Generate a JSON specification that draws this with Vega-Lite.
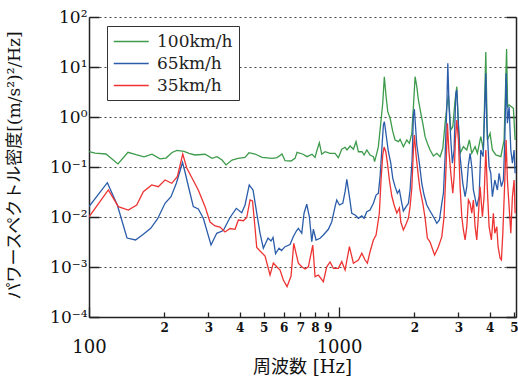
{
  "$schema": "https://vega.github.io/schema/vega-lite/v6.json",
  "width": 427,
  "height": 300,
  "autosize": {"type": "none"},
  "padding": {"left": 89, "top": 17, "right": 2, "bottom": 61},
  "background": "white",
  "config": {"view": {"stroke": null}, "font": "DejaVu Serif"},
  "datasets": {
    "psd": [
      {"s":"100km/h","f":100,"v":0.204},{"s":"100km/h","f":105.7,"v":0.19},{"s":"100km/h","f":116.9,"v":0.182},{"s":"100km/h","f":130.6,"v":0.115},{"s":"100km/h","f":143.2,"v":0.197},{"s":"100km/h","f":154.2,"v":0.176},{"s":"100km/h","f":166,"v":0.159},{"s":"100km/h","f":178.6,"v":0.18},{"s":"100km/h","f":192.3,"v":0.145},{"s":"100km/h","f":203.2,"v":0.151},{"s":"100km/h","f":214.8,"v":0.195},{"s":"100km/h","f":224.9,"v":0.214},{"s":"100km/h","f":239.9,"v":0.206},{"s":"100km/h","f":251.2,"v":0.188},{"s":"100km/h","f":265.5,"v":0.174},{"s":"100km/h","f":291.1,"v":0.18},{"s":"100km/h","f":310.5,"v":0.149},{"s":"100km/h","f":325.1,"v":0.161},{"s":"100km/h","f":340.4,"v":0.138},{"s":"100km/h","f":353.2,"v":0.11},{"s":"100km/h","f":373.3,"v":0.138},{"s":"100km/h","f":394.5,"v":0.149},{"s":"100km/h","f":420.7,"v":0.156},{"s":"100km/h","f":436.5,"v":0.193},{"s":"100km/h","f":461.3,"v":0.182},{"s":"100km/h","f":492,"v":0.156},{"s":"100km/h","f":539.5,"v":0.149},{"s":"100km/h","f":564.9,"v":0.154},{"s":"100km/h","f":591.6,"v":0.182},{"s":"100km/h","f":608.1,"v":0.134},{"s":"100km/h","f":642.7,"v":0.132},{"s":"100km/h","f":666.8,"v":0.149},{"s":"100km/h","f":679.2,"v":0.197},{"s":"100km/h","f":717.8,"v":0.18},{"s":"100km/h","f":744.7,"v":0.161},{"s":"100km/h","f":779.8,"v":0.18},{"s":"100km/h","f":801.7,"v":0.156},{"s":"100km/h","f":816.6,"v":0.219},{"s":"100km/h","f":834,"v":0.306},{"s":"100km/h","f":852.6,"v":0.18},{"s":"100km/h","f":879,"v":0.202},{"s":"100km/h","f":920.4,"v":0.188},{"s":"100km/h","f":963.8,"v":0.188},{"s":"100km/h","f":993.6,"v":0.154},{"s":"100km/h","f":1025,"v":0.226},{"s":"100km/h","f":1057,"v":0.248},{"s":"100km/h","f":1076,"v":0.219},{"s":"100km/h","f":1107,"v":0.263},{"s":"100km/h","f":1141,"v":0.226},{"s":"100km/h","f":1169,"v":0.321},{"s":"100km/h","f":1195,"v":0.202},{"s":"100km/h","f":1236,"v":0.202},{"s":"100km/h","f":1259,"v":0.174},{"s":"100km/h","f":1291,"v":0.219},{"s":"100km/h","f":1330,"v":0.174},{"s":"100km/h","f":1372,"v":0.161},{"s":"100km/h","f":1387,"v":0.128},{"s":"100km/h","f":1415,"v":0.188},{"s":"100km/h","f":1436,"v":0.255},{"s":"100km/h","f":1468,"v":0.748},{"s":"100km/h","f":1495,"v":1.88},{"s":"100km/h","f":1517,"v":6.4},{"s":"100km/h","f":1542,"v":2.55},{"s":"100km/h","f":1566,"v":1.28},{"s":"100km/h","f":1600,"v":0.942},{"s":"100km/h","f":1640,"v":0.508},{"s":"100km/h","f":1675,"v":0.347},{"s":"100km/h","f":1727,"v":0.321},{"s":"100km/h","f":1754,"v":0.358},{"s":"100km/h","f":1808,"v":0.255},{"s":"100km/h","f":1866,"v":0.347},{"s":"100km/h","f":1911,"v":0.298},{"s":"100km/h","f":1954,"v":0.472},{"s":"100km/h","f":1983,"v":1.61},{"s":"100km/h","f":2014,"v":6.4},{"s":"100km/h","f":2046,"v":4.04},{"s":"100km/h","f":2076,"v":2.19},{"s":"100km/h","f":2123,"v":1.19},{"s":"100km/h","f":2162,"v":0.748},{"s":"100km/h","f":2208,"v":0.404},{"s":"100km/h","f":2255,"v":0.298},{"s":"100km/h","f":2312,"v":0.219},{"s":"100km/h","f":2384,"v":0.166},{"s":"100km/h","f":2460,"v":0.188},{"s":"100km/h","f":2535,"v":0.161},{"s":"100km/h","f":2599,"v":0.237},{"s":"100km/h","f":2655,"v":0.748},{"s":"100km/h","f":2697,"v":1.61},{"s":"100km/h","f":2737,"v":2.75},{"s":"100km/h","f":2798,"v":0.55},{"s":"100km/h","f":2850,"v":0.64},{"s":"100km/h","f":2911,"v":2.19},{"s":"100km/h","f":2957,"v":4.04},{"s":"100km/h","f":3001,"v":0.64},{"s":"100km/h","f":3048,"v":0.188},{"s":"100km/h","f":3142,"v":0.255},{"s":"100km/h","f":3242,"v":0.219},{"s":"100km/h","f":3320,"v":0.347},{"s":"100km/h","f":3394,"v":0.188},{"s":"100km/h","f":3499,"v":0.255},{"s":"100km/h","f":3574,"v":0.188},{"s":"100km/h","f":3688,"v":0.404},{"s":"100km/h","f":3777,"v":0.219},{"s":"100km/h","f":3862,"v":20},{"s":"100km/h","f":3919,"v":0.347},{"s":"100km/h","f":4018,"v":0.472},{"s":"100km/h","f":4104,"v":0.219},{"s":"100km/h","f":4235,"v":0.174},{"s":"100km/h","f":4436,"v":0.161},{"s":"100km/h","f":4571,"v":0.347},{"s":"100km/h","f":4677,"v":22.9},{"s":"100km/h","f":4721,"v":1.61},{"s":"100km/h","f":4786,"v":1.74},{"s":"100km/h","f":4889,"v":1.61},{"s":"100km/h","f":4980,"v":1.49},{"s":"100km/h","f":5058,"v":0.347},
      {"s":"65km/h","f":100,"v":0.0161},{"s":"65km/h","f":118.4,"v":0.0485},{"s":"65km/h","f":129.8,"v":0.0174},{"s":"65km/h","f":141.9,"v":0.0038},{"s":"65km/h","f":153.5,"v":0.00347},{"s":"65km/h","f":163.4,"v":0.00437},{"s":"65km/h","f":176.5,"v":0.00594},{"s":"65km/h","f":187.9,"v":0.00912},{"s":"65km/h","f":201.4,"v":0.0188},{"s":"65km/h","f":212.8,"v":0.0255},{"s":"65km/h","f":223.5,"v":0.0472},{"s":"65km/h","f":236.6,"v":0.123},{"s":"65km/h","f":242.1,"v":0.0794},{"s":"65km/h","f":251.2,"v":0.0363},{"s":"65km/h","f":261.3,"v":0.0161},{"s":"65km/h","f":273.6,"v":0.0145},{"s":"65km/h","f":286.5,"v":0.00942},{"s":"65km/h","f":307.6,"v":0.00275},{"s":"65km/h","f":324.2,"v":0.00472},{"s":"65km/h","f":344.5,"v":0.00537},{"s":"65km/h","f":366.4,"v":0.00977},{"s":"65km/h","f":388.3,"v":0.0149},{"s":"65km/h","f":408.1,"v":0.0122},{"s":"65km/h","f":420.7,"v":0.0174},{"s":"65km/h","f":437.3,"v":0.0437},{"s":"65km/h","f":452.9,"v":0.0347},{"s":"65km/h","f":468.6,"v":0.012},{"s":"65km/h","f":483.1,"v":0.00472},{"s":"65km/h","f":498,"v":0.00237},{"s":"65km/h","f":520,"v":0.0038},{"s":"65km/h","f":534.6,"v":0.00331},{"s":"65km/h","f":544.5,"v":0.00389},{"s":"65km/h","f":557.2,"v":0.00185},{"s":"65km/h","f":575.4,"v":0.00237},{"s":"65km/h","f":588.8,"v":0.00214},{"s":"65km/h","f":608.1,"v":0.00255},{"s":"65km/h","f":636.8,"v":0.00282},{"s":"65km/h","f":656.5,"v":0.00407},{"s":"65km/h","f":674.9,"v":0.00525},{"s":"65km/h","f":687.4,"v":0.00594},{"s":"65km/h","f":709.3,"v":0.00472},{"s":"65km/h","f":724.4,"v":0.0119},{"s":"65km/h","f":742.7,"v":0.018},{"s":"65km/h","f":760.7,"v":0.0101},{"s":"65km/h","f":777.7,"v":0.00321},{"s":"65km/h","f":789.3,"v":0.00568},{"s":"65km/h","f":809.1,"v":0.00347},{"s":"65km/h","f":839.5,"v":0.00375},{"s":"65km/h","f":865.4,"v":0.00437},{"s":"65km/h","f":906.2,"v":0.00568},{"s":"65km/h","f":935.1,"v":0.00805},{"s":"65km/h","f":963.8,"v":0.0161},{"s":"65km/h","f":979,"v":0.0219},{"s":"65km/h","f":1003,"v":0.0174},{"s":"65km/h","f":1035,"v":0.0188},{"s":"65km/h","f":1057,"v":0.0321},{"s":"65km/h","f":1074,"v":0.0568},{"s":"65km/h","f":1100,"v":0.0255},{"s":"65km/h","f":1124,"v":0.0119},{"s":"65km/h","f":1159,"v":0.011},{"s":"65km/h","f":1195,"v":0.00942},{"s":"65km/h","f":1233,"v":0.0105},{"s":"65km/h","f":1259,"v":0.00942},{"s":"65km/h","f":1291,"v":0.0128},{"s":"65km/h","f":1330,"v":0.0138},{"s":"65km/h","f":1372,"v":0.0188},{"s":"65km/h","f":1406,"v":0.0275},{"s":"65km/h","f":1436,"v":0.0298},{"s":"65km/h","f":1459,"v":0.064},{"s":"65km/h","f":1482,"v":0.219},{"s":"65km/h","f":1504,"v":0.692},{"s":"65km/h","f":1517,"v":0.805},{"s":"65km/h","f":1528,"v":0.631},{"s":"65km/h","f":1552,"v":0.347},{"s":"65km/h","f":1575,"v":0.202},{"s":"65km/h","f":1610,"v":0.119},{"s":"65km/h","f":1640,"v":0.0594},{"s":"65km/h","f":1675,"v":0.0404},{"s":"65km/h","f":1711,"v":0.0298},{"s":"65km/h","f":1743,"v":0.0347},{"s":"65km/h","f":1782,"v":0.0188},{"s":"65km/h","f":1808,"v":0.0132},{"s":"65km/h","f":1854,"v":0.0161},{"s":"65km/h","f":1894,"v":0.0188},{"s":"65km/h","f":1923,"v":0.0347},{"s":"65km/h","f":1959,"v":0.138},{"s":"65km/h","f":1983,"v":1.1},{"s":"65km/h","f":2001,"v":1.43},{"s":"65km/h","f":2014,"v":0.871},{"s":"65km/h","f":2046,"v":0.275},{"s":"65km/h","f":2095,"v":0.119},{"s":"65km/h","f":2142,"v":0.0472},{"s":"65km/h","f":2188,"v":0.0275},{"s":"65km/h","f":2243,"v":0.0174},{"s":"65km/h","f":2298,"v":0.0138},{"s":"65km/h","f":2349,"v":0.0115},{"s":"65km/h","f":2399,"v":0.00955},{"s":"65km/h","f":2460,"v":0.00748},{"s":"65km/h","f":2519,"v":0.00871},{"s":"65km/h","f":2576,"v":0.0188},{"s":"65km/h","f":2614,"v":0.0298},{"s":"65km/h","f":2655,"v":0.161},{"s":"65km/h","f":2697,"v":1.61},{"s":"65km/h","f":2722,"v":11.9},{"s":"65km/h","f":2754,"v":1.61},{"s":"65km/h","f":2798,"v":0.347},{"s":"65km/h","f":2839,"v":0.119},{"s":"65km/h","f":2884,"v":0.219},{"s":"65km/h","f":2930,"v":2.98},{"s":"65km/h","f":2957,"v":3.47},{"s":"65km/h","f":3001,"v":0.748},{"s":"65km/h","f":3048,"v":0.161},{"s":"65km/h","f":3125,"v":0.0472},{"s":"65km/h","f":3192,"v":0.0255},{"s":"65km/h","f":3242,"v":0.0404},{"s":"65km/h","f":3290,"v":0.11},{"s":"65km/h","f":3342,"v":0.188},{"s":"65km/h","f":3394,"v":0.101},{"s":"65km/h","f":3445,"v":0.0347},{"s":"65km/h","f":3554,"v":0.0161},{"s":"65km/h","f":3631,"v":0.0255},{"s":"65km/h","f":3688,"v":0.219},{"s":"65km/h","f":3767,"v":0.161},{"s":"65km/h","f":3826,"v":1.61},{"s":"65km/h","f":3862,"v":7.48},{"s":"65km/h","f":3897,"v":0.748},{"s":"65km/h","f":3981,"v":0.101},{"s":"65km/h","f":4044,"v":0.0748},{"s":"65km/h","f":4104,"v":0.0255},{"s":"65km/h","f":4196,"v":0.055},{"s":"65km/h","f":4297,"v":0.0347},{"s":"65km/h","f":4365,"v":0.0748},{"s":"65km/h","f":4459,"v":0.0404},{"s":"65km/h","f":4542,"v":0.055},{"s":"65km/h","f":4601,"v":0.347},{"s":"65km/h","f":4656,"v":7.48},{"s":"65km/h","f":4712,"v":0.748},{"s":"65km/h","f":4786,"v":1.61},{"s":"65km/h","f":4862,"v":0.219},{"s":"65km/h","f":4934,"v":0.119},{"s":"65km/h","f":5012,"v":0.219},{"s":"65km/h","f":5058,"v":0.0748},
      {"s":"35km/h","f":100,"v":0.0101},{"s":"35km/h","f":119.5,"v":0.0347},{"s":"35km/h","f":131,"v":0.0161},{"s":"35km/h","f":143.6,"v":0.0138},{"s":"35km/h","f":155.2,"v":0.0174},{"s":"35km/h","f":164.9,"v":0.0321},{"s":"35km/h","f":178.1,"v":0.0437},{"s":"35km/h","f":189.3,"v":0.0404},{"s":"35km/h","f":201.4,"v":0.055},{"s":"35km/h","f":214.2,"v":0.0472},{"s":"35km/h","f":225.5,"v":0.064},{"s":"35km/h","f":237.1,"v":0.182},{"s":"35km/h","f":246,"v":0.0955},{"s":"35km/h","f":258.2,"v":0.0603},{"s":"35km/h","f":273.6,"v":0.0347},{"s":"35km/h","f":291.1,"v":0.0161},{"s":"35km/h","f":304.8,"v":0.00794},{"s":"35km/h","f":319.2,"v":0.00661},{"s":"35km/h","f":334.2,"v":0.00631},{"s":"35km/h","f":349.9,"v":0.00501},{"s":"35km/h","f":366.4,"v":0.00589},{"s":"35km/h","f":383.7,"v":0.00568},{"s":"35km/h","f":395.6,"v":0.00871},{"s":"35km/h","f":414.2,"v":0.00843},{"s":"35km/h","f":427.4,"v":0.00977},{"s":"35km/h","f":440.6,"v":0.0219},{"s":"35km/h","f":450.8,"v":0.0209},{"s":"35km/h","f":461.3,"v":0.00603},{"s":"35km/h","f":468.6,"v":0.00246},{"s":"35km/h","f":483.1,"v":0.00209},{"s":"35km/h","f":505.8,"v":0.00166},{"s":"35km/h","f":529.7,"v":0.000692},{"s":"35km/h","f":546,"v":0.0012},{"s":"35km/h","f":563.4,"v":0.00101},{"s":"35km/h","f":580.8,"v":0.000871},{"s":"35km/h","f":598.7,"v":0.00055},{"s":"35km/h","f":619.4,"v":0.000404},{"s":"35km/h","f":642.7,"v":0.000661},{"s":"35km/h","f":658.9,"v":0.00298},{"s":"35km/h","f":673,"v":0.00188},{"s":"35km/h","f":687.4,"v":0.00119},{"s":"35km/h","f":709.3,"v":0.00101},{"s":"35km/h","f":731.1,"v":0.000912},{"s":"35km/h","f":753.8,"v":0.00101},{"s":"35km/h","f":784.9,"v":0.00275},{"s":"35km/h","f":801.7,"v":0.00064},{"s":"35km/h","f":826.5,"v":0.000692},{"s":"35km/h","f":865.4,"v":0.000508},{"s":"35km/h","f":892.7,"v":0.00101},{"s":"35km/h","f":920.4,"v":0.00126},{"s":"35km/h","f":949,"v":0.000942},{"s":"35km/h","f":993.6,"v":0.000942},{"s":"35km/h","f":1025,"v":0.00128},{"s":"35km/h","f":1057,"v":0.000871},{"s":"35km/h","f":1100,"v":0.00255},{"s":"35km/h","f":1141,"v":0.00119},{"s":"35km/h","f":1195,"v":0.00138},{"s":"35km/h","f":1233,"v":0.00188},{"s":"35km/h","f":1271,"v":0.00138},{"s":"35km/h","f":1298,"v":0.00119},{"s":"35km/h","f":1330,"v":0.00202},{"s":"35km/h","f":1372,"v":0.00347},{"s":"35km/h","f":1406,"v":0.00437},{"s":"35km/h","f":1449,"v":0.0119},{"s":"35km/h","f":1472,"v":0.055},{"s":"35km/h","f":1495,"v":0.174},{"s":"35km/h","f":1514,"v":0.251},{"s":"35km/h","f":1538,"v":0.2},{"s":"35km/h","f":1561,"v":0.12},{"s":"35km/h","f":1589,"v":0.055},{"s":"35km/h","f":1625,"v":0.0263},{"s":"35km/h","f":1660,"v":0.0174},{"s":"35km/h","f":1702,"v":0.012},{"s":"35km/h","f":1743,"v":0.0151},{"s":"35km/h","f":1766,"v":0.00794},{"s":"35km/h","f":1808,"v":0.0055},{"s":"35km/h","f":1854,"v":0.00724},{"s":"35km/h","f":1894,"v":0.00955},{"s":"35km/h","f":1923,"v":0.0161},{"s":"35km/h","f":1954,"v":0.038},{"s":"35km/h","f":1983,"v":0.219},{"s":"35km/h","f":2001,"v":0.437},{"s":"35km/h","f":2032,"v":0.174},{"s":"35km/h","f":2076,"v":0.064},{"s":"35km/h","f":2109,"v":0.0347},{"s":"35km/h","f":2162,"v":0.0188},{"s":"35km/h","f":2208,"v":0.00955},{"s":"35km/h","f":2255,"v":0.0038},{"s":"35km/h","f":2312,"v":0.00316},{"s":"35km/h","f":2371,"v":0.00219},{"s":"35km/h","f":2410,"v":0.00174},{"s":"35km/h","f":2495,"v":0.00251},{"s":"35km/h","f":2576,"v":0.00404},{"s":"35km/h","f":2630,"v":0.0101},{"s":"35km/h","f":2679,"v":0.101},{"s":"35km/h","f":2712,"v":0.748},{"s":"35km/h","f":2747,"v":0.219},{"s":"35km/h","f":2798,"v":0.0748},{"s":"35km/h","f":2850,"v":0.0298},{"s":"35km/h","f":2884,"v":0.064},{"s":"35km/h","f":2919,"v":0.347},{"s":"35km/h","f":2957,"v":0.871},{"s":"35km/h","f":3001,"v":0.347},{"s":"35km/h","f":3048,"v":0.0404},{"s":"35km/h","f":3096,"v":0.0101},{"s":"35km/h","f":3142,"v":0.0055},{"s":"35km/h","f":3192,"v":0.00347},{"s":"35km/h","f":3242,"v":0.0064},{"s":"35km/h","f":3290,"v":0.0219},{"s":"35km/h","f":3342,"v":0.0188},{"s":"35km/h","f":3394,"v":0.0119},{"s":"35km/h","f":3445,"v":0.0219},{"s":"35km/h","f":3499,"v":0.0064},{"s":"35km/h","f":3554,"v":0.00347},{"s":"35km/h","f":3597,"v":0.00871},{"s":"35km/h","f":3664,"v":0.0404},{"s":"35km/h","f":3743,"v":0.0101},{"s":"35km/h","f":3802,"v":0.0255},{"s":"35km/h","f":3862,"v":0.219},{"s":"35km/h","f":3919,"v":0.0347},{"s":"35km/h","f":3981,"v":0.0064},{"s":"35km/h","f":4066,"v":0.00347},{"s":"35km/h","f":4141,"v":0.0119},{"s":"35km/h","f":4196,"v":0.00472},{"s":"35km/h","f":4273,"v":0.0064},{"s":"35km/h","f":4325,"v":0.00255},{"s":"35km/h","f":4406,"v":0.00149},{"s":"35km/h","f":4459,"v":0.00138},{"s":"35km/h","f":4517,"v":0.00472},{"s":"35km/h","f":4601,"v":0.055},{"s":"35km/h","f":4656,"v":0.347},{"s":"35km/h","f":4712,"v":0.055},{"s":"35km/h","f":4786,"v":0.0161},{"s":"35km/h","f":4862,"v":0.00472},{"s":"35km/h","f":4934,"v":0.0255},{"s":"35km/h","f":5012,"v":0.055},{"s":"35km/h","f":5058,"v":0.0119}
    ]
  },
  "data": {"name": "psd"},
  "layer": [
    {
      "mark": {"type": "line", "strokeWidth": 1.3, "clip": true},
      "encoding": {
        "x": {
          "field": "f", "type": "quantitative",
          "scale": {"type": "log", "domain": [100, 5100], "nice": false},
          "axis": {
            "orient": "bottom",
            "values": [100, 200, 300, 400, 500, 600, 700, 800, 900, 1000, 2000, 3000, 4000, 5000],
            "labelExpr": "datum.value == 100 || datum.value == 1000 ? '' : datum.value > 1000 ? '' + (datum.value / 1000) : '' + (datum.value / 100)",
            "labelFontSize": 12,
            "labelFontWeight": "bold",
            "labelPadding": 10,
            "tickSize": {"condition": {"test": "datum.value == 100 || datum.value == 1000", "value": -10}, "value": -5},
            "labelBaseline": "top",
            "labelAngle": 0,
            "labelFlush": false,
            "labelOverlap": false,
            "labelBound": false,
            "labelColor": "#111",
            "labelFont": "DejaVu Serif",
            "grid": false,
            "domainColor": "#222",
            "domainWidth": 1.5,
            "tickColor": "#222",
            "tickWidth": 1.3,
            "title": "周波数 [Hz]",
            "titleFont": "DejaVu Serif, Noto Sans CJK JP",
            "titleFontSize": 18,
            "titleFontWeight": "normal",
            "titleColor": "#111",
            "titleX": 213,
            "titleY": 50,
            "titleBaseline": "middle"
          }
        },
        "y": {
          "field": "v", "type": "quantitative",
          "scale": {"type": "log", "domain": [0.0001, 100], "nice": false},
          "axis": {
            "orient": "left",
            "values": [0.0001, 0.001, 0.01, 0.1, 1, 10, 100],
            "labelExpr": "datum.value >= 50 ? '10²' : datum.value >= 5 ? '10¹' : datum.value >= 0.5 ? '10⁰' : datum.value >= 0.05 ? '10⁻¹' : datum.value >= 0.005 ? '10⁻²' : datum.value >= 0.0005 ? '10⁻³' : '10⁻⁴'",
            "labelFont": "DejaVu Serif",
            "labelFontSize": 17,
            "labelColor": "#111",
            "labelPadding": 12,
            "labelFlush": false,
            "labelOverlap": false,
            "labelBound": false,
            "tickSize": -10,
            "tickColor": "#222",
            "tickWidth": 1.5,
            "grid": true,
            "gridDash": [2, 3],
            "gridColor": "#444",
            "gridWidth": 1,
            "domainColor": "#222",
            "domainWidth": 1.5,
            "title": "パワースペクトル密度[(m/s²)²/Hz]",
            "titleFont": "DejaVu Serif, Noto Sans CJK JP",
            "titleFontSize": 17,
            "titleFontWeight": "normal",
            "titleColor": "#111",
            "titleX": -75,
            "titleY": 148,
            "titleBaseline": "middle",
            "titleAlign": "center"
          }
        },
        "color": {
          "field": "s", "type": "nominal",
          "scale": {"domain": ["100km/h", "65km/h", "35km/h"], "range": ["#3d9b4b", "#2a5caa", "#ee3333"]},
          "legend": {
            "orient": "none",
            "legendX": 18,
            "legendY": 9,
            "title": null,
            "symbolType": "M-1,0H3",
            "symbolSize": 306,
            "symbolStrokeWidth": 1.5,
            "labelFont": "DejaVu Serif",
            "labelFontSize": 17,
            "labelColor": "#222",
            "labelOffset": 25,
            "padding": 6,
            "rowPadding": 4,
            "strokeColor": "#333",
            "fillColor": "white"
          }
        }
      }
    },
    {
      "mark": {"type": "point", "opacity": 0},
      "encoding": {
        "x": {
          "field": "f", "type": "quantitative",
          "axis": {
            "orient": "bottom",
            "values": [100, 1000],
            "labelExpr": "'' + datum.value",
            "domain": false,
            "ticks": false,
            "grid": false,
            "labelFont": "DejaVu Serif",
            "labelFontSize": 18,
            "labelColor": "#111",
            "labelBaseline": "top",
            "labelPadding": 21,
            "labelFlush": false,
            "labelOverlap": false,
            "labelBound": false,
            "title": null
          }
        },
        "y": {
          "field": "v", "type": "quantitative",
          "axis": {
            "orient": "right",
            "values": [0.0001, 0.001, 0.01, 0.1, 1, 10, 100],
            "labels": false,
            "tickSize": -10,
            "tickColor": "#222",
            "tickWidth": 1.5,
            "grid": false,
            "domainColor": "#222",
            "domainWidth": 1.5,
            "title": null
          }
        }
      }
    }
  ],
  "resolve": {"axis": {"x": "independent", "y": "independent"}}
}
